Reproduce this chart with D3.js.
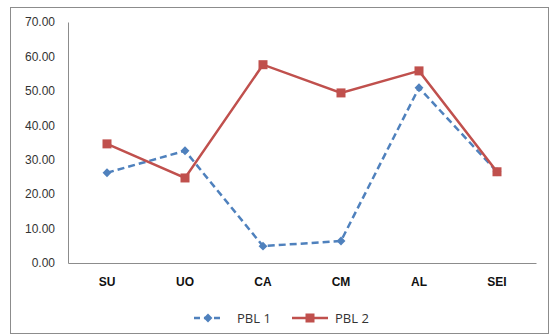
<!DOCTYPE html>
<html>
<head>
<meta charset="utf-8">
<script src="https://cdn.jsdelivr.net/npm/d3@7"></script>
<style>
  body { margin: 0; background: #fff; }
  svg { font-family: "Open Sans", "DejaVu Sans", sans-serif; }
</style>
</head>
<body>
<div id="chart"></div>
<script>
// data
const categories = ["SU", "UO", "CA", "CM", "AL", "SEI"];
const pbl1 = [26.2, 32.6, 4.9, 6.4, 50.9, 26.5];
const pbl2 = [34.6, 24.7, 57.6, 49.4, 55.8, 26.5];
const yTicks = [0, 10, 20, 30, 40, 50, 60, 70];

const W = 552, H = 336;
const margin = { top: 22, right: 16, bottom: 73, left: 68 };

const svg = d3.select("#chart").append("svg")
  .attr("width", W).attr("height", H);

// outer frame
svg.append("rect")
  .attr("x", 10.5).attr("y", 7.5)
  .attr("width", 538).attr("height", 326)
  .attr("fill", "#fff").attr("stroke", "#8c8c8c").attr("stroke-width", 1);

const x = d3.scaleBand().domain(categories)
  .range([margin.left, W - margin.right]);
const y = d3.scaleLinear().domain([0, 70])
  .range([H - margin.bottom, margin.top]);

// y axis
const gy = svg.append("g")
  .attr("transform", `translate(${margin.left},0)`)
  .call(d3.axisLeft(y).tickValues(yTicks).tickSize(0).tickPadding(13)
    .tickFormat(d3.format(".2f")));
gy.select(".domain").attr("stroke", "#8c8c8c");
gy.selectAll("text").attr("font-size", "12px").attr("fill", "#333");

// x axis
const gx = svg.append("g")
  .attr("transform", `translate(0,${H - margin.bottom})`)
  .call(d3.axisBottom(x).tickSize(0).tickPadding(14));
gx.select(".domain").attr("stroke", "#8c8c8c");
gx.selectAll("text").attr("font-size", "12px").attr("font-weight", "bold")
  .attr("fill", "#111");

const cx = d => x(d) + x.bandwidth() / 2;
const line = d3.line().x((d, i) => cx(categories[i])).y(d => y(d));

// PBL 1 - blue dashed, diamonds
svg.append("path").datum(pbl1)
  .attr("d", line).attr("fill", "none")
  .attr("stroke", "#4f81bd").attr("stroke-width", 2.5)
  .attr("stroke-dasharray", "7,4");
svg.selectAll(".m1").data(pbl1).join("path")
  .attr("class", "m1")
  .attr("d", d3.symbol().type(d3.symbolDiamond2).size(50))
  .attr("transform", (d, i) => `translate(${cx(categories[i])},${y(d)})`)
  .attr("fill", "#4f81bd");

// PBL 2 - red solid, squares
svg.append("path").datum(pbl2)
  .attr("d", line).attr("fill", "none")
  .attr("stroke", "#c0504d").attr("stroke-width", 2.5);
svg.selectAll(".m2").data(pbl2).join("rect")
  .attr("class", "m2")
  .attr("x", (d, i) => cx(categories[i]) - 4.5)
  .attr("y", d => y(d) - 4.5)
  .attr("width", 9).attr("height", 9)
  .attr("fill", "#c0504d");

// legend
const lg = svg.append("g").attr("transform", "translate(0,318)");
lg.append("line").attr("x1", 194).attr("x2", 223).attr("y1", 0).attr("y2", 0)
  .attr("stroke", "#4f81bd").attr("stroke-width", 2.5).attr("stroke-dasharray", "6,4");
lg.append("path").attr("d", d3.symbol().type(d3.symbolDiamond2).size(50))
  .attr("transform", "translate(208,0)").attr("fill", "#4f81bd");
lg.append("text").attr("x", 237).attr("y", 4.5).attr("font-size", "13px")
  .attr("fill", "#333").text("PBL 1");
lg.append("line").attr("x1", 292).attr("x2", 328).attr("y1", 0).attr("y2", 0)
  .attr("stroke", "#c0504d").attr("stroke-width", 2.5);
lg.append("rect").attr("x", 305.5).attr("y", -4.5).attr("width", 9).attr("height", 9)
  .attr("fill", "#c0504d");
lg.append("text").attr("x", 335).attr("y", 4.5).attr("font-size", "13px")
  .attr("fill", "#333").text("PBL 2");
</script>
</body>
</html>
